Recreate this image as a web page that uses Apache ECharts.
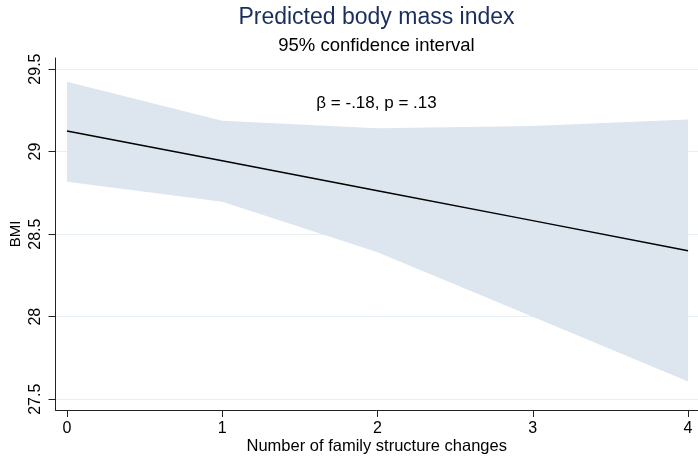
<!DOCTYPE html>
<html>
<head>
<meta charset="utf-8">
<script src="https://cdn.jsdelivr.net/npm/echarts@6/dist/echarts.min.js"></script>
<style>
  html, body { margin: 0; padding: 0; background: #fff; }
  #main { width: 698px; height: 456px; }
</style>
</head>
<body>
<div id="main"></div>
<script>
// number of family structure changes
var changes = [0, 1, 2, 3, 4];
// predicted BMI and 95% CI bounds
var predicted = [29.125, 28.944, 28.763, 28.582, 28.40];
var upperCI = [29.423, 29.187, 29.141, 29.155, 29.195];
var lowerCI = [28.818, 28.697, 28.39, 28.00, 27.607];
var yTicks = [27.5, 28, 28.5, 29, 29.5];
var xTicks = [0, 1, 2, 3, 4];

var font = "'Liberation Sans', Arial, sans-serif";

var chart = echarts.init(document.getElementById("main"));

var bandData = changes.map(function (x, i) { return [x, lowerCI[i], upperCI[i]]; });
var lineData = changes.map(function (x, i) { return [x, predicted[i]]; });

// draws the whole CI band as one polygon (on the first item)
function renderBand(params, api) {
  if (params.dataIndex !== 0) return;
  var top = [], bottom = [];
  for (var i = 0; i < bandData.length; i++) {
    top.push(api.coord([bandData[i][0], bandData[i][2]]));
    bottom.unshift(api.coord([bandData[i][0], bandData[i][1]]));
  }
  return {
    type: "polygon",
    shape: { points: top.concat(bottom) },
    style: { fill: "#dde6ef" },
    silent: true
  };
}

var option = {
  backgroundColor: "#fff",
  animation: false,
  title: [
    {
      text: "Predicted body mass index",
      left: 376.5,
      top: 6,
      textAlign: "center",
      padding: 0,
      textStyle: { fontFamily: font, fontSize: 23, fontWeight: "normal", color: "#1a2e5c" }
    },
    {
      text: "95% confidence interval",
      left: 376.5,
      top: 36,
      textAlign: "center",
      padding: 0,
      textStyle: { fontFamily: font, fontSize: 18.5, fontWeight: "normal", color: "#000" }
    },
    {
      text: "β = -.18, p = .13",
      left: 376.5,
      top: 95,
      textAlign: "center",
      padding: 0,
      textStyle: { fontFamily: font, fontSize: 17, fontWeight: "normal", color: "#000" }
    }
  ],
  grid: {
    left: 55.5,
    right: 0,
    top: 58,
    bottom: 46,
    containLabel: false,
    outerBoundsMode: "none"
  },
  xAxis: {
    type: "value",
    min: -0.074,
    max: 4.064,
    name: "Number of family structure changes",
    nameLocation: "middle",
    nameGap: 28,
    nameMoveOverlap: false,
    nameTextStyle: { fontFamily: font, fontSize: 16.5, color: "#000" },
    axisLine: { onZero: false, lineStyle: { color: "#222", width: 1 } },
    axisTick: { customValues: xTicks, length: 7, lineStyle: { color: "#222" } },
    axisLabel: {
      customValues: xTicks,
      margin: 11,
      fontFamily: font,
      fontSize: 16,
      color: "#000"
    },
    splitLine: { show: false }
  },
  yAxis: {
    type: "value",
    min: 27.435,
    max: 29.567,
    name: "BMI",
    nameLocation: "middle",
    nameRotate: 90,
    nameGap: 32,
    nameMoveOverlap: false,
    nameTextStyle: { fontFamily: font, fontSize: 15, color: "#000" },
    axisLine: { show: true, onZero: false, lineStyle: { color: "#222", width: 1 } },
    axisTick: { customValues: yTicks, length: 7, lineStyle: { color: "#222" } },
    axisLabel: {
      customValues: yTicks,
      rotate: 90,
      margin: 12,
      fontFamily: font,
      fontSize: 16,
      color: "#000"
    },
    splitLine: { show: true, lineStyle: { color: "#e6edf3", width: 1 } }
  },
  series: [
    {
      name: "95% CI",
      type: "custom",
      data: bandData,
      encode: { x: 0, y: [1, 2] },
      renderItem: renderBand,
      z: 1
    },
    {
      name: "Predicted",
      type: "line",
      data: lineData,
      symbol: "none",
      lineStyle: { color: "#000", width: 1.5 },
      z: 5
    }
  ]
};

chart.setOption(option);
</script>
</body>
</html>
